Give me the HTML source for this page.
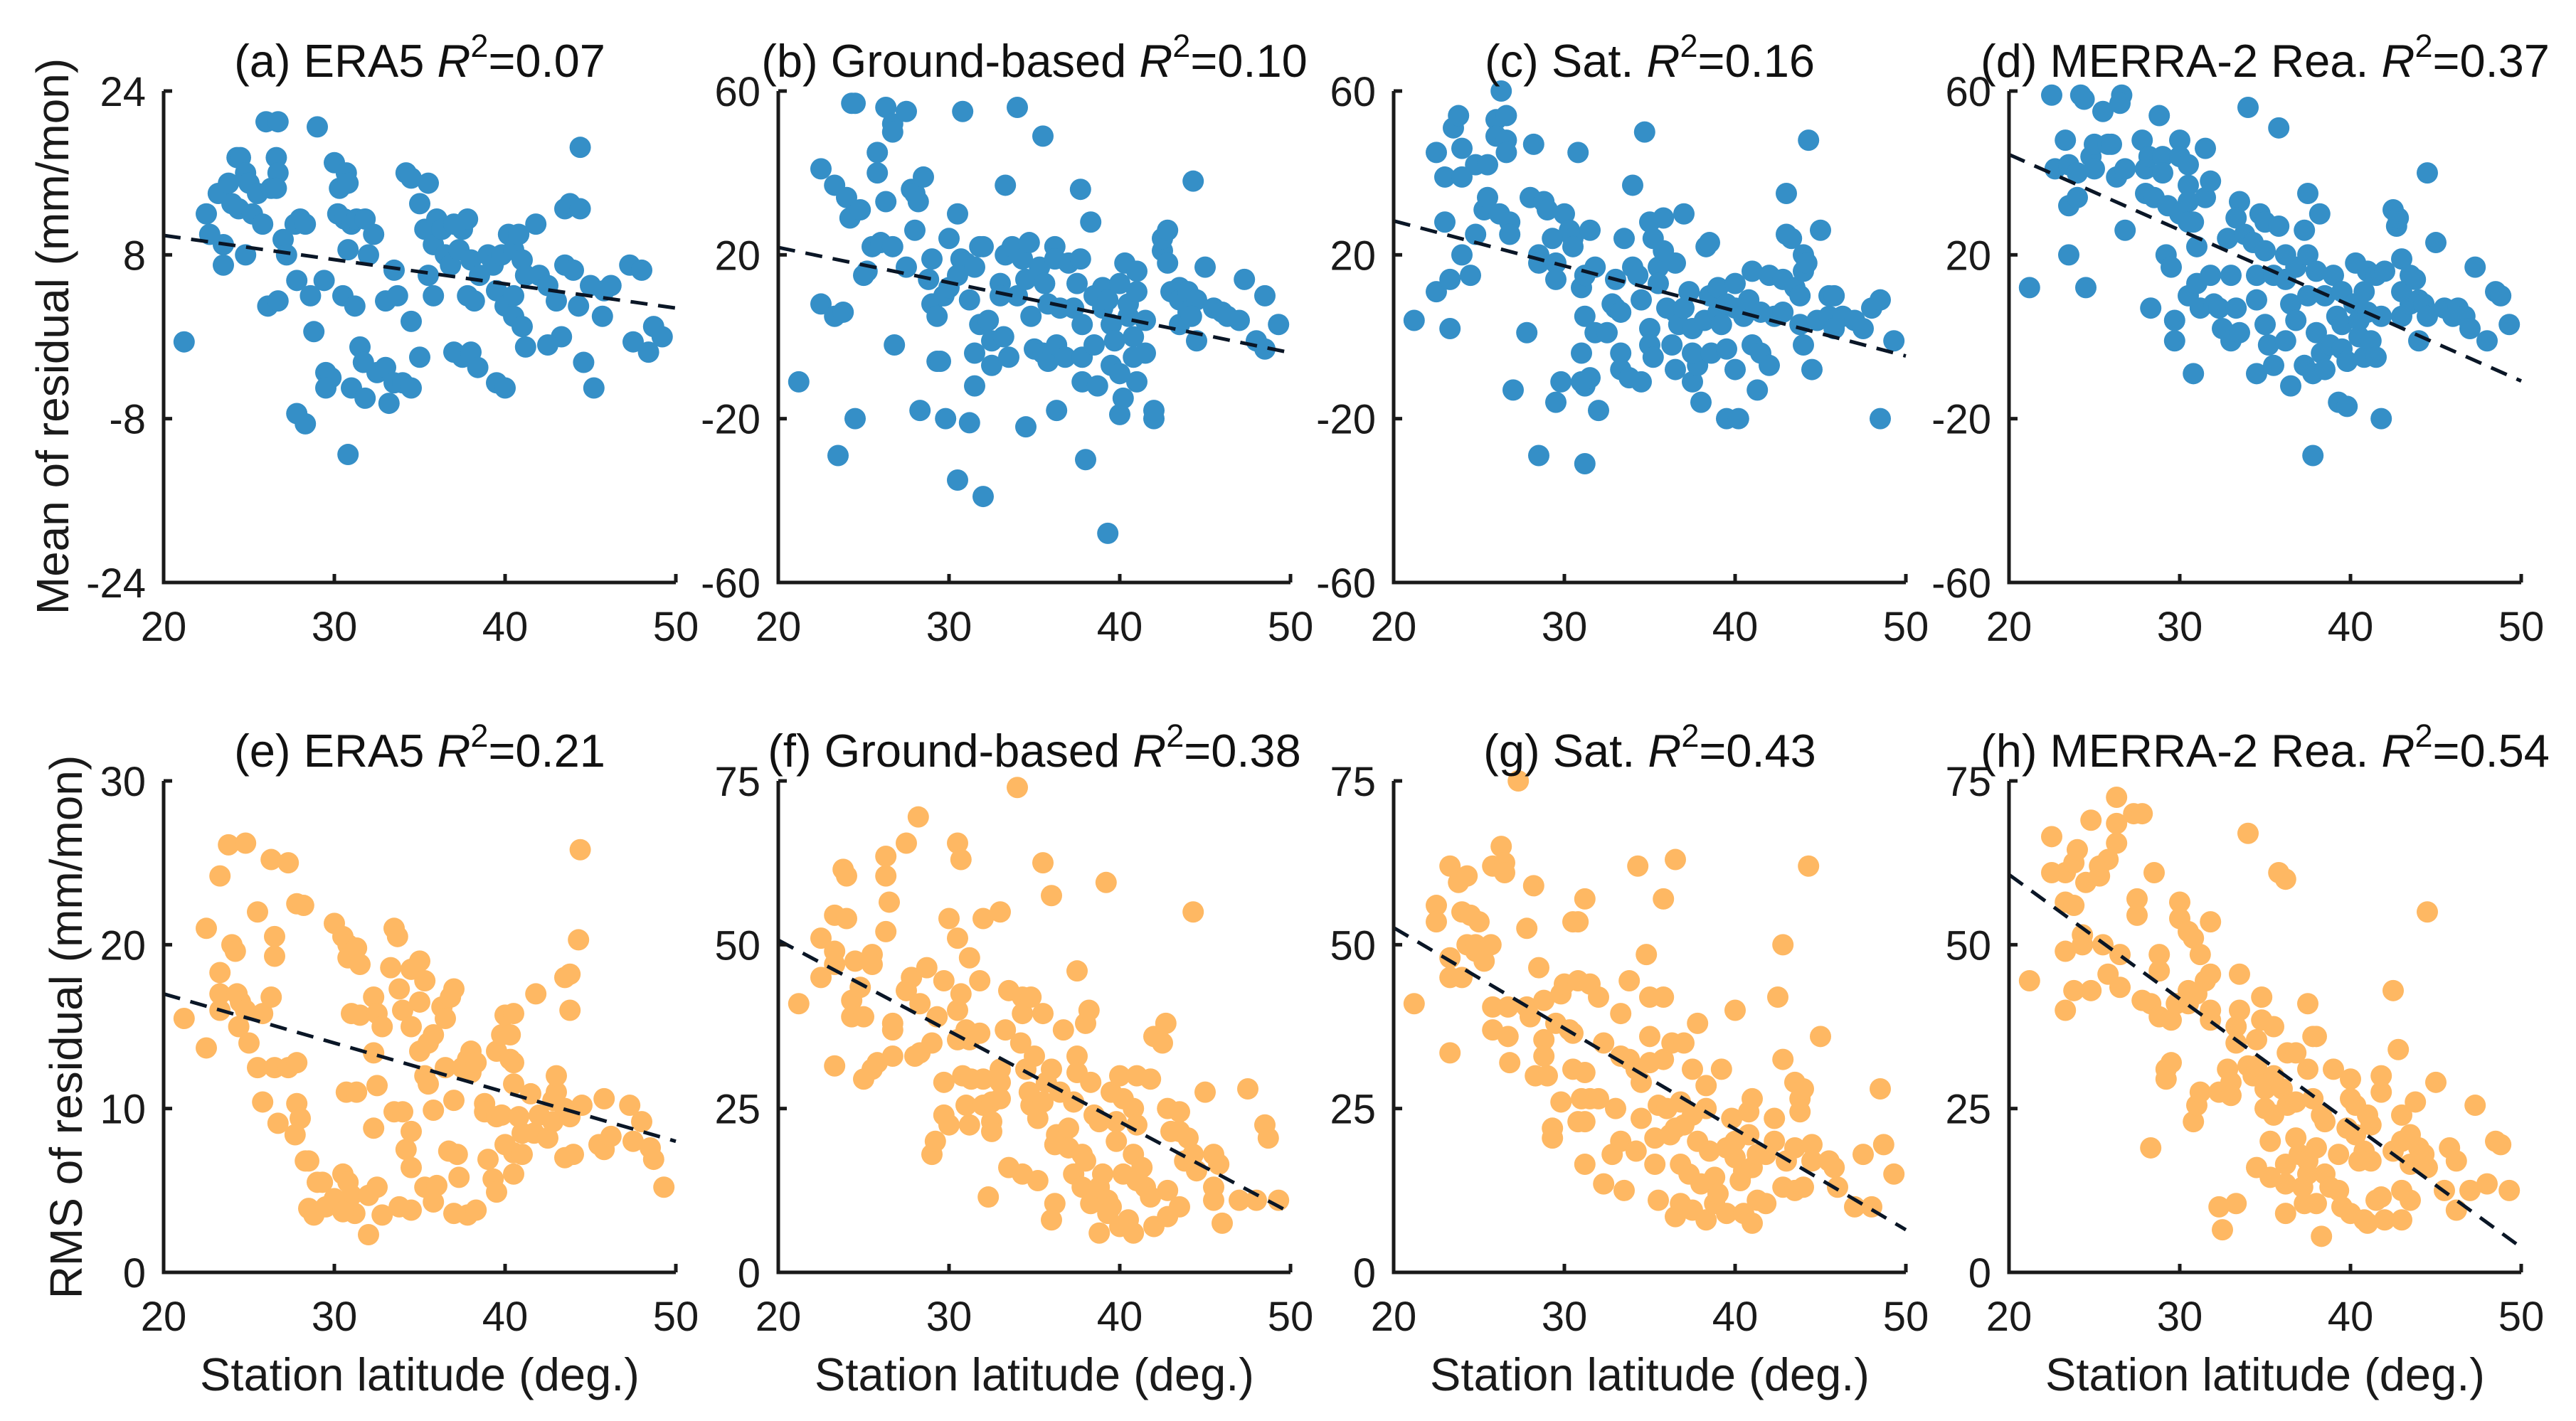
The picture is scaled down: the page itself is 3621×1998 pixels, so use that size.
<!DOCTYPE html>
<html><head><meta charset="utf-8"><style>
html,body{margin:0;padding:0;background:#fff;}
svg{display:block;font-family:"Liberation Sans",Arial,sans-serif;}
</style></head><body>
<svg id="fig" width="3621" height="1998" viewBox="0 0 3621 1998" xmlns="http://www.w3.org/2000/svg"></svg>
<script>
// ---- data (station latitude, residual values) ----
const latA=[21.2,22.5,22.7,23.2,23.5,23.5,23.8,24,24.3,24.5,24.4,24.8,25,25.2,24.8,25.5,25.8,26,26.3,26.7,26.6,26.7,26.6,27,27.2,26.1,26.7,27.7,28,28.3,27.8,28.6,29,28.8,29.4,30,30.3,30.7,30.8,30.2,30.6,31,31.3,31.8,30.8,30.5,31.2,31.5,31.7,32,32.3,29.5,29.8,29.5,31,31.8,32.5,33,33.2,33.5,34,34.5,27.8,28.3,30.8,33.5,33,33.7,34.5,35,34.2,34.5,35.5,35,35.3,35.8,35.5,35.8,36,36.3,36.5,36.8,37,37.5,37.8,37.3,37.8,38.2,37,37.5,38,38.4,38,38.5,39,39.3,39.8,40.2,40.5,40.8,41,41.2,39.5,40,40.5,39.5,40,40.5,41,41.2,41.8,42,42.5,43,43.5,44,44.3,43.3,43.5,43.8,44.4,44.4,44.6,45.2,45,45.8,46.2,45.7,47.3,48,47.5,48.4,48.7,49.2,42.5];
const valA=[-0.5,12,10,14,9,7,15,13,17.5,17.5,12.5,16,15,12,8,14,11,21,14.5,21,17.5,16,14.5,9.5,8,3,3.5,11,11.5,11,5.5,4,20.5,0.5,5.5,17,14.5,16,15,12,11.5,11,11.5,11.5,8.5,4,3,-1,-2.5,8,10,-3.5,-4,-5,-5,-6,-3.5,-3,-6.5,-4.5,-4.5,-5,-7.5,-8.5,-11.5,6.5,3.5,4,1.5,-2,16,15.5,15,13,10.5,9,6,4,11.5,10.5,8,7,11,10.5,11.5,8.5,4,3.5,-1.5,-2,-1.5,-3,7.5,6,8,7,8,10,8.5,10,7.5,6,4.5,3,2,-4.5,-5,4,1,-1,11,6,5,3.5,7,6.5,3,0,12.5,13,12.5,18.5,-2.5,-5,5,4.5,5,2,7,6.5,-0.5,-1.5,1,0,-0.8];
const latB=[21.2,22.5,22.5,23.3,23.3,23.5,24,23.8,24.3,24.5,24.2,24.5,24.8,25,25.2,25.5,25.8,25.8,26,26.3,26.3,26.7,26.7,26.7,26.8,27.5,27.5,27.8,28,28.2,28,28.5,28.3,29,28.8,29,29.3,29.7,29.3,29.5,29.8,30,30,30.5,30.7,31,30.5,31.2,31.2,30.8,30.5,31.5,31.8,32,31.8,31.5,31.5,32.3,32.5,32.5,33,33,33.3,33.2,33.5,32,33.3,33.7,34,34.3,34.5,34.7,34.8,35,34.5,34,35.5,35.3,35.6,35.8,35.5,35.8,36.2,36.2,36.5,36.3,36.8,36.3,37,37.5,37.3,37.8,37.8,37.8,37.7,37.7,38.3,38,38.5,38.7,38.5,39,39,39.3,39.5,39.7,39.5,39.3,40,40.3,40.5,40.5,40.8,40,40,40.2,40.8,41,41,41,41.5,41.5,42,42,42.5,42.5,42.8,42.8,43,43.5,43.5,43.5,44,44.5,44.5,44,44.2,44.3,45,45.5,46,46.3,47.3,47,48,48.5,48.5,49.3];
const valB=[-11,41,8,37,5,-29,34,6,57,57,29,-20,31,15,16,22,40,45,23,33,56,52,50,22,-2,55,17,36,35,33,26,39,-18,19,14,8,5,10,-6,-6,-20,12,24,30,19,18,15,9,-21,55,-35,17,22,22,3,-4,-12,4,-1,-7,13,10,20,0,-5,-39,37,22,10,19,14,23,5,-3,-22,56,49,17,13,8,-4,-6,22,19,7,-2,-5,-18,18,13,7,3,-5,-11,19,36,28,-30,10,-12,-2,7,12,9,3,-1,-7,-48,13,18,5,8,0,-9,-19,-15,-5,-11,11,16,-4,4,-20,-18,21,24,26,18,11,12,3,9,11,9,-1,6,5,38,17,7,6,5,14,4,-1,-3,10,3];
const latC=[21.2,22.5,22.5,23,23,23.3,23.3,23.5,23.8,24,24,24,24.5,24.8,24.8,25.3,25.5,25.5,26,26,26.2,26.3,26.6,26.6,26.6,26.8,26.8,27,27.8,28.2,28,28.8,28.5,28.5,29,29.3,29.5,29.5,29.5,29.8,30,30.3,30.5,30.5,31,31.2,31.2,31,31.2,31.5,31,30.8,31.5,31.8,31.8,32,32.5,32.8,33,33,33.3,33.3,33.5,33.3,33.8,34,34,34.3,34.5,34.5,31.2,28.5,34.7,35,35.2,35.5,35.5,35,35,35.2,35.8,35.8,36,36.5,36.5,36.3,36.5,36.7,37,37,37.3,37.5,37.5,37.8,37.5,38,38.3,38.5,38.2,38.5,38.6,39,39,39.2,39.5,39.5,39.5,40,40,40,40.2,40.5,40.8,41,41,41.3,41.5,41.5,42,42.3,42,42.8,42.8,43,43,43.3,43.5,43.8,43.8,44,44,44.2,44,44.5,44.3,45,44.8,45.5,45.5,45.8,45.8,46.3,47,47.5,48,48.5,48.5,49.3];
const valC=[4,11,45,39,28,14,2,51,54,46,39,20,15,42,25,31,42,34,53,49,30,60,48,54,45,28,25,-13,1,47,34,33,20,18,31,24,18,14,-16,-11,30,26,24,22,12,15,5,-4,-12,-10,-11,45,26,17,1,-18,1,8,14,7,6,-4,24,-8,-10,37,17,15,9,-11,-31,-29,50,28,24,17,13,2,-2,-5,21,29,7,18,6,-2,-8,3,30,7,11,2,-11,-7,-4,-16,22,23,4,10,-4,12,6,3,-3,8,-20,13,7,-8,-20,5,9,16,-2,-13,6,-4,15,5,-7,14,6,35,25,24,12,10,3,20,16,18,-2,-8,48,26,4,5,10,10,2,5,4,2,7,9,-20,-1];
const latD=[21.2,22.5,22.7,23.3,23.5,23.5,23.5,24,24.2,24,24.4,24.5,24.8,25,25,25.5,25.8,26,26.3,26.6,26.5,26.8,26.8,27.8,28,28,28.2,28.3,28.8,28.5,29,29,29.3,29.2,29.5,29.7,29.7,30,30,30,30.5,30.5,30.5,30.5,30.5,30.8,31,31,30.8,31.2,31.5,31.5,31.8,31.8,32,32.3,32.5,32.8,33,33,33.5,33.3,33.3,33.5,33.8,34,34.3,34.5,34.5,34.5,34.7,35,35,35,35.2,35.5,35.5,35.8,35.8,36.2,36.2,36.2,36.5,36.5,36.8,36.8,37.3,37.3,37.5,37.5,37.5,37.8,37.8,38,38,38.2,38.3,38.5,38.5,38.8,39.2,39,39.3,39.5,39.5,39.5,39.8,39.8,40.2,40.3,40.5,40.5,40.8,40.8,41,41,41.2,41.5,41.5,41.8,41.8,42,42.5,42.7,42.8,43,43,43,43.5,43.5,43.8,44,44,44.3,44.5,44.5,45,45.5,46,46.3,46.7,47.3,47,48,48.5,48.8,49.3];
const valD=[12,59,41,48,42,32,20,34,59,40,58,12,44,47,41,55,47,47,39,59,57,41,26,48,41,35,44,7,54,34,44,40,32,20,17,4,-1,48,44,30,42,37,33,28,10,28,22,13,-9,7,46,34,38,15,8,7,2,24,15,-1,33,29,7,1,25,56,23,15,9,-9,30,28,21,3,-2,15,-7,51,27,20,14,-1,8,-12,17,4,26,-7,35,20,10,-9,-29,16,1,30,-4,10,-8,-2,5,15,-16,11,3,-3,-17,-6,8,18,4,0,11,-5,6,16,-1,-5,15,-20,5,16,31,27,29,19,11,5,15,8,14,9,-1,8,40,5,23,7,5,7,5,17,2,-1,11,10,3];
const latE=[21.2,22.5,22.5,23.3,23.3,23.3,23.3,23.8,24,24.2,24.3,24.5,24.4,24.8,25,24.8,25.5,25.5,25.8,25.8,26.3,26.5,26.5,26.3,26.5,26.7,27.3,27.3,27.8,28.2,27.8,27.8,28,27.7,28.3,28.5,28.5,28.8,29,29.3,29.5,30,30.5,30.8,31,30.8,31.3,31.5,30.7,31.3,31,31.5,30.5,30.8,31,31.2,30,30.5,32,32,32.3,32.3,32.5,32.8,32.5,32.3,32.5,32.8,33.5,33.7,33.3,33.8,34,34.5,34.2,34.5,33.5,34,34.5,33.8,34.5,34.5,35,35.3,35,35,35.3,35.5,35.8,35.5,35.8,35.3,35.8,36,36.3,36.8,37,36.5,36.5,36.7,37,37.2,37.5,37.8,38,37.3,37,37.8,38.3,38,38.3,38.8,38.8,39,39.3,39.5,39.5,39.8,39.5,39.8,40,40.3,40.5,40.3,40.5,40.5,40.5,40,40.5,41,41,40.8,41.8,41.5,41.7,42,42.5,42.8,42.8,43,43,43.5,43.8,43.5,44,43.5,43.8,43.8,44.3,44.4,44.5,45.5,45.8,45.8,46.2,47.3,47.5,48,48.5,48.7,49.3];
const valE=[15.5,21,13.7,24.2,18.3,17,16,26.1,20,19.6,17,16.5,15,16,14,26.2,22,12.5,15.8,10.4,25.2,20.5,19.3,16.8,12.5,9.1,25,12.5,22.5,22.4,12.8,10.3,9.4,8.4,6.8,6.8,3.9,3.5,5.5,5.5,4,21.3,20.5,20,19.5,19.2,19.8,18.8,11,11,15.8,15.7,6,5.5,4.7,3.6,4.5,3.7,4.7,2.3,16.8,13.4,15.8,15,11.4,8.8,5.2,3.5,21,20.5,18.6,17.3,16,15,7.5,6.4,9.8,9.8,8.6,4,3.8,18.5,19,17.8,16.5,13.5,12,14,14.5,11.5,9.9,5.2,4.3,5.3,16.2,16.8,17.3,15.5,12.5,7.4,10.5,7.2,12.5,13,13.5,5.8,3.6,3.5,3.8,12.2,12.8,10.3,9.8,6.9,5.7,4.9,9.5,9.6,13.5,14.5,15.7,14.5,15.8,13,12.8,11.5,6,7.8,7.3,8.5,7.2,9.5,17,10.9,8.5,9.6,8.2,10.5,9.2,11,12,10,9.5,7,7.2,18,18.2,16,20.3,25.8,10.2,7.8,10.6,7.5,8.3,10.2,8,9.2,7.6,6.9,5.2];
const latF=[21.2,22.5,22.5,23.3,23.3,23.3,23.3,23.8,24,24,24.3,24.3,24.5,24.8,25,25,25.5,25.5,25.5,25.8,26.3,26.3,26.5,26.3,26.7,26.7,26.7,27.5,27.5,27.8,28,28.2,28.3,28.3,28.7,29,29,29.2,29.3,29.7,29.7,29.7,30,30,30.5,30.5,30.7,30.5,30.7,30.5,31,30.8,31.2,31.2,31.3,31,31.2,31.8,32,31.8,32,32,32.5,32.5,32.5,32.3,33,33,33,33,33.3,33.5,33.5,34,34.2,34.3,34.3,34.3,34.5,34.8,34.7,34.8,35,35.2,35.2,35.5,35.5,35.7,35.5,36,36,36.3,36.2,36.2,36,36.5,36.7,37,37,37.3,37.3,37.5,37.5,37.5,37.8,37.8,38,38,38.2,38.3,38.3,38.5,38.8,38.8,39,38.8,39.2,39.3,39.5,39.3,39.5,39.8,39.8,40,40.2,40.2,40,40.5,40.8,40.8,41,40.8,41,41,41.3,41.5,41.8,41.8,42,42,42.5,42.7,42.8,43,42.8,42.8,43.5,43.5,43.5,43.8,44,44.3,44.3,44.5,45,45.5,45.5,45.5,45.8,46,47,47.5,48,48.5,48.7,49.3];
const valF=[41,51,45,54.5,49,47,31.5,61.5,54,60.5,41.5,39,47.5,43.5,39,29.5,48.5,47,31,32,63.5,60.5,56.5,52,38,37,33,65.5,43,45,33,69.5,41,33.5,46.5,35,18,20,39,44.5,29,24,22.5,54,65.5,51,63,40,42.5,35.5,37,30,48,35.5,29.5,25.5,22.5,36.5,54,44.5,25.5,29.5,26,23,21.5,11.5,55,29,31,26.5,37,43,16,74,35,42,39.5,15,31,42,27.5,25.5,33,23.5,14,62.5,39.5,29,26,57.5,31,21,19.5,10.5,8,27.5,37,22,19,26,15,46,33,30.5,18,13,17,38,40,10.5,29,24,23,13,15,6,59.5,11,10,9,27.5,23,20,30,26.5,15,7,8,6,25,30,18,22.5,14,16,13,29.5,11.5,36,7,35,38,25,21.5,12.5,8.5,24.5,21.5,10,17,20.5,55,18,15.5,27.5,18,13,11,16.5,7.5,11,28,11,22.5,20.5,11];
const latG=[21.2,22.5,22.5,23.3,23.3,23.3,23.3,23.8,24,24,24.3,24.3,24.8,24.5,24.8,25,25.3,25.7,25.8,25.8,25.8,26.3,26.5,26.5,26.7,26.7,26.8,27.3,27.8,27.8,28.2,28,28.3,28.8,28.5,28.8,28.8,29,29.3,29.3,29.5,29.8,29.8,30,30.3,30.5,30.8,30.5,30.8,30.5,30.8,31,31.2,31.2,31.5,31.2,31.2,31.5,32,32,32.3,32.3,32.8,33,33.3,33.3,33.3,33.8,33.8,33.5,34.2,34.3,34.2,34.5,34.5,34.8,35,35,35,35.3,35.3,35.5,35.5,35.8,35.8,35.8,36,36.2,36.5,36.3,36.5,36.8,36.8,36.5,36.8,37,37,37.3,37.5,37.5,37.8,37.8,37.5,38,38.3,38.3,38.5,38.3,38.8,38.8,39,39.2,39.5,39.5,39.8,40,40,40,40.3,40.5,40.5,40.8,41,40.8,41,41,41.3,41.3,41.8,41.8,42.3,42.3,42.5,42.8,42.8,43,42.8,43.5,43.5,43.5,43.8,43.8,44,44,44.3,44.5,44.5,45,45.5,45.8,46,47,47.5,48,48.5,48.7,49.3];
const valG=[41,56,53.5,62,48,45,33.5,59.5,55,45,60.5,50,49,54.5,50,53.5,47.5,50,62,40.5,37,65,62.5,61,40.5,36,32,75,52.5,40.5,59,39,30,41.5,46.5,35.5,33,30,22,20.5,38,26,42.5,44,37,36.5,44.5,53.5,53.5,31,23,26.5,30.5,57,44,23,16.5,26.5,26.5,42,35,13.5,18,25,20,39.5,33,32.5,44.5,12.5,18.5,62,31,29,23.5,48.5,42,36,32,20.5,16.5,25.5,11,57,42,32.5,25,21,63,35,22,26,16.5,8.5,10.5,35,22.5,15,31,24,20,38,9.5,13.5,28.5,25,18.5,8,14.5,10.5,12,31,19,9,23.5,20,17.5,40,14,15.5,9,24.5,26.5,21,16,7.5,18,11,18,10.5,23.5,20,42,50,32.5,17,13,29,19,12.5,24.5,26.5,28,13,62,19.5,17,36,17,16,13,10,18,10,28,19.5,15];
const latH=[21.2,22.5,22.5,23.3,23.3,23.3,23.3,23.8,23.8,23.8,24,24.3,24.3,24.5,24.8,24.8,25.3,25.3,25.5,25.8,25.8,26.3,26.3,26.3,26.5,26.5,27.3,27.8,27.5,27.5,27.8,28.3,28.5,28.3,28.8,28.8,28.8,29.2,29.2,29.5,29.5,29.8,30,30,30.5,30.8,30.5,30.5,31,30.8,31,31.2,31.2,31.5,31.8,31.8,31.8,31.8,32.3,32.3,32.5,32.8,33,33,33.3,33.3,33.3,33.5,33.5,34,34,34.3,34.5,34.5,34.5,34.8,34.8,35,35,35.3,35.3,35.5,35.5,35.5,35.8,36,36.2,36.3,36.3,36.2,36.2,36.2,36.8,36.8,36.8,37,37.2,37.3,37.5,37.5,37.5,37.5,37.8,38,37.8,38,38,38.3,38.5,38.5,38.3,38.8,39,39.3,39.3,39.5,39.8,40,40,40,40.3,40.3,40.5,40.8,40.8,41,41,41.2,41.2,41.5,41.8,41.8,41.8,42,42.5,42.5,42.8,43,43,43,43,43.5,43.5,43.5,43.8,44,44.3,44.5,44.5,45,45.5,45.8,46.2,46.2,47,47.3,48,48.5,48.8,49.3];
const valH=[44.5,66.5,61,61,56.5,49,40,62.5,56,43,64.5,51.5,50,59.5,69,43,60.5,62,50,63,45.5,72.5,68.5,65.5,48.5,43.5,70,70,57,54.5,41.5,41,61,19,48.5,46,39,31,29.5,38.5,32,41,56.5,54,52,51,43,41,42.5,23,25.5,27.5,48.5,44.5,45.5,53.5,40,38.5,27.5,10,6.5,31,29,27,37.5,35,10.5,40,45.5,31.5,67,30,35.5,31.5,16,42,38.5,28,25,20,14.5,30,24,37.5,61,28,60,33.5,25.5,16.5,13.5,9,33.5,26,20.5,18,13,10.5,41,31,17,15,36,36,26.5,19,10.5,24,15,23,5.5,13,31,18,12.5,10,22,29.5,26.5,9,25.5,21,17,18.5,8,24,7.5,22.5,17,11,30,27.5,11.5,8,18.5,43,34,24,20,12.5,8,21,16.5,11,26,19,18,16,55,29,12.5,19,17,9.5,12.5,25.5,13.5,20,19.5,12.5];
// regression-line values at latitude 20 and 50
const fitA=[9.9,2.8], fitB=[21.8,-3.9], fitC=[28.3,-4.7], fitD=[44.5,-10.8];
const fitE=[17.0,8.0], fitF=[50.7,9.1], fitG=[52.6,6.5], fitH=[60.7,3.8];
const xTicks=[20,30,40,50];
const yTicksA=[-24,-8,8,24], yTicksB=[-60,-20,20,60], yTicksE=[0,10,20,30], yTicksF=[0,25,50,75];
const titleNames=["(a) ERA5 ","(b) Ground-based ","(c) Sat. ","(d) MERRA-2 Rea. ","(e) ERA5 ","(f) Ground-based ","(g) Sat. ","(h) MERRA-2 Rea. "];
const r2Values=["0.07","0.10","0.16","0.37","0.21","0.38","0.43","0.54"];

// ---- drawing ----
const NS="http://www.w3.org/2000/svg";
const svg=document.getElementById('fig');
function mk(tag,attrs,parent){const e=document.createElementNS(NS,tag);for(const k in attrs)e.setAttribute(k,attrs[k]);(parent||svg).appendChild(e);return e;}
const lefts=[230,1094,1959,2824], W=720;
const tops=[128,1098], H=691;
const BLUE="#358fc7", ORANGE="#feb863";
const panels=[
 {lat:latA,val:valA,fit:fitA,yt:yTicksA,row:0,col:0,c:BLUE,name:'panel-a-era5-mean'},
 {lat:latB,val:valB,fit:fitB,yt:yTicksB,row:0,col:1,c:BLUE,name:'panel-b-ground-mean'},
 {lat:latC,val:valC,fit:fitC,yt:yTicksB,row:0,col:2,c:BLUE,name:'panel-c-sat-mean'},
 {lat:latD,val:valD,fit:fitD,yt:yTicksB,row:0,col:3,c:BLUE,name:'panel-d-merra-mean'},
 {lat:latE,val:valE,fit:fitE,yt:yTicksE,row:1,col:0,c:ORANGE,name:'panel-e-era5-rms'},
 {lat:latF,val:valF,fit:fitF,yt:yTicksF,row:1,col:1,c:ORANGE,name:'panel-f-ground-rms'},
 {lat:latG,val:valG,fit:fitG,yt:yTicksF,row:1,col:2,c:ORANGE,name:'panel-g-sat-rms'},
 {lat:latH,val:valH,fit:fitH,yt:yTicksF,row:1,col:3,c:ORANGE,name:'panel-h-merra-rms'}
];
panels.forEach((p,i)=>{
  const L=lefts[p.col], T=tops[p.row], B=T+H, R=L+W;
  const y0=p.yt[0], y1=p.yt[p.yt.length-1];
  const xs=v=>L+(v-20)/30*W;
  const ys=v=>B-(v-y0)/(y1-y0)*H;
  const g=mk('g',{});
  
  
  const pts=mk('g',{fill:p.c},g);
  
  
  for(let k=0;k<p.lat.length;k++){
    const c=mk('circle',{cx:xs(p.lat[k]),cy:ys(p.val[k]),r:15},pts);
    
    
  }
  const fl=mk('line',{x1:xs(20),y1:ys(p.fit[0]),x2:xs(50),y2:ys(p.fit[1]),stroke:'#0a1626','stroke-width':5,'stroke-dasharray':'24 15'},g);
  
  
  const ax=mk('path',{d:`M${L} ${T}V${B}H${R}`,fill:'none',stroke:'#1a1a1a','stroke-width':5},g);
  
  
  xTicks.forEach(t=>{
    const x=xs(t);
    mk('line',{x1:x,y1:B,x2:x,y2:B-12,stroke:'#1a1a1a','stroke-width':5},g);
    const tl=mk('text',{x:x,y:B+82,'font-size':58,'text-anchor':'middle',fill:'#1a1a1a'},g);
    tl.textContent=t;
    
    
  });
  p.yt.forEach(t=>{
    const y=ys(t);
    mk('line',{x1:L,y1:y,x2:L+12,y2:y,stroke:'#1a1a1a','stroke-width':5},g);
    const tl=mk('text',{x:L-25,y:y+21,'font-size':58,'text-anchor':'end',fill:'#1a1a1a'},g);
    tl.textContent=t;
    
    
  });
  const tt=mk('text',{x:L+W/2,y:T-20,'font-size':65,'text-anchor':'middle',fill:'#111'},g);
  
  
  const s1=mk('tspan',{},tt); s1.textContent=titleNames[i];
  const s2=mk('tspan',{'font-style':'italic'},tt); s2.textContent='R';
  const s3=mk('tspan',{dy:-28,'font-size':45},tt); s3.textContent='2';
  const s4=mk('tspan',{dy:28},tt); s4.textContent='='+r2Values[i];
  if(p.row===1){
    const xl=mk('text',{x:L+W/2,y:1955,'font-size':65,'text-anchor':'middle',fill:'#1a1a1a'},g);
    xl.textContent='Station latitude (deg.)';
    
    
  }
});
const yl1=mk('text',{x:0,y:0,'font-size':64,'text-anchor':'middle',fill:'#1a1a1a',transform:'translate(96,473) rotate(-90)'});
yl1.textContent='Mean of residual (mm/mon)';


const yl2=mk('text',{x:0,y:0,'font-size':64,'text-anchor':'middle',fill:'#1a1a1a',transform:'translate(115,1444) rotate(-90)'});
yl2.textContent='RMS of residual (mm/mon)';


</script>
</body></html>
